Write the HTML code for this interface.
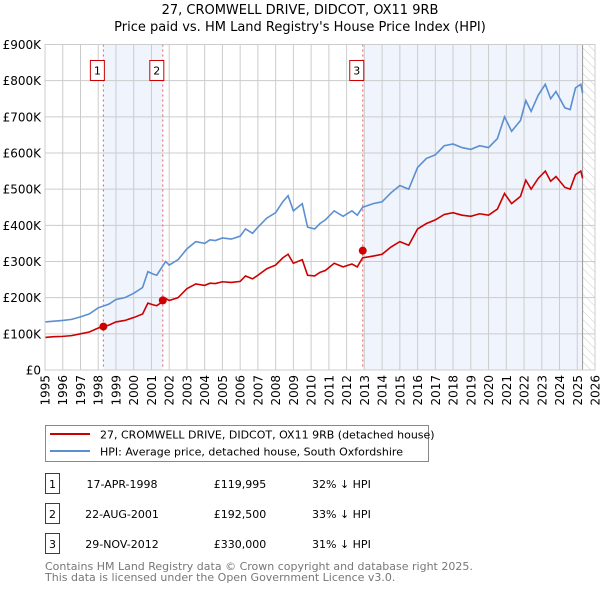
<!DOCTYPE html>
<html><head><meta charset="utf-8"><style>
body{margin:0;background:#fff;font-family:"DejaVu Sans","Liberation Sans",sans-serif;}
svg text{font-family:"DejaVu Sans","Liberation Sans",sans-serif;}
</style></head><body>
<svg id="chart" width="600" height="590" xmlns="http://www.w3.org/2000/svg">
<defs><pattern id="hatch" width="6" height="6" patternUnits="userSpaceOnUse" patternTransform="rotate(-45)"><line x1="0" y1="0" x2="0" y2="6" stroke="#ccc" stroke-width="1"/></pattern></defs>
<text x="300" y="14" text-anchor="middle" font-size="13">27, CROMWELL DRIVE, DIDCOT, OX11 9RB</text>
<text x="300" y="31" text-anchor="middle" font-size="13">Price paid vs. HM Land Registry's House Price Index (HPI)</text>
<g id="bg"></g><g id="grid"></g><g id="lines"></g><g id="axes"></g>
<g>
<rect x="45.5" y="425.5" width="383" height="36" fill="#fff" stroke="#888"/>
<line x1="50" y1="434" x2="90" y2="434" stroke="#cc0000" stroke-width="2"/>
<text x="100" y="438.5" font-size="11">27, CROMWELL DRIVE, DIDCOT, OX11 9RB (detached house)</text>
<line x1="50" y1="451" x2="90" y2="451" stroke="#5b8fd0" stroke-width="2"/>
<text x="100" y="455.5" font-size="11">HPI: Average price, detached house, South Oxfordshire</text>
</g>
<g id="table" font-size="11"></g>
<text x="45" y="570" font-size="11" fill="#777">Contains HM Land Registry data © Crown copyright and database right 2025.</text>
<text x="45" y="581" font-size="11" fill="#777">This data is licensed under the Open Government Licence v3.0.</text>
</svg>
<script>
const hpiYears=[1995,1995.5,1996,1996.5,1997,1997.5,1998,1998.3,1998.6,1999,1999.5,2000,2000.5,2000.8,2001.1,2001.3,2001.6,2001.8,2002,2002.5,2003,2003.5,2004,2004.3,2004.6,2005,2005.5,2006,2006.3,2006.7,2007,2007.5,2008,2008.4,2008.7,2009,2009.5,2009.8,2010.2,2010.5,2010.8,2011.3,2011.8,2012.3,2012.6,2012.9,2013.5,2014,2014.5,2015,2015.5,2016,2016.5,2017,2017.5,2018,2018.5,2019,2019.5,2020,2020.5,2020.9,2021.3,2021.8,2022.1,2022.4,2022.8,2023.2,2023.5,2023.8,2024.3,2024.6,2024.9,2025.2,2025.3];
const hpiValues=[133,135,137,140,147,155,172,177,182,195,200,212,228,272,265,262,285,300,290,305,335,355,350,360,358,365,362,370,390,378,395,420,435,465,482,440,460,395,390,405,415,440,425,440,428,450,460,465,490,510,500,560,585,595,620,625,615,610,620,615,640,700,660,690,745,715,760,790,750,770,725,720,780,790,765];
const ppYears=hpiYears;
const ppValues=[90,92,93,95,100,105,116,120,124,133,137,145,155,185,180,178,188,198,192,200,225,238,234,240,239,244,242,245,260,252,262,280,290,310,320,295,305,262,260,270,275,295,285,293,285,310,315,320,340,355,345,390,405,415,430,435,428,425,432,428,445,488,460,480,525,500,530,550,522,535,505,500,540,550,530];
const saleYears=[1998.29,2001.64,2012.91];
const saleValues=[119995,192500,330000];
const saleLabels=["1","2","3"];
const saleDates=["17-APR-1998","22-AUG-2001","29-NOV-2012"];
const salePrices=["£119,995","£192,500","£330,000"];
const saleDiffs=["32% ↓ HPI","33% ↓ HPI","31% ↓ HPI"];
const yTicks=[0,100,200,300,400,500,600,700,800,900];
const yTickLabels=["£0","£100K","£200K","£300K","£400K","£500K","£600K","£700K","£800K","£900K"];
const xTicks=[1995,1996,1997,1998,1999,2000,2001,2002,2003,2004,2005,2006,2007,2008,2009,2010,2011,2012,2013,2014,2015,2016,2017,2018,2019,2020,2021,2022,2023,2024,2025,2026];
const dataEnd=2025.3;

const L=45,R=595,T=44.5,B=370;
const X=y=>L+(y-1995)*(R-L)/31;
const Y=v=>B-v*(B-T)/900;
const NS="http://www.w3.org/2000/svg";
function mk(parent,tag,attrs){const e=document.createElementNS(NS,tag);for(const k in attrs)e.setAttribute(k,attrs[k]);document.getElementById(parent).appendChild(e);return e;}

let r=mk('bg','rect',{x:X(saleYears[0]),y:T,width:X(saleYears[1])-X(saleYears[0]),height:B-T,fill:'#f0f4fc'});


r=mk('bg','rect',{x:X(saleYears[2]),y:T,width:X(dataEnd)-X(saleYears[2]),height:B-T,fill:'#f0f4fc'});


r=mk('bg','rect',{x:X(dataEnd),y:T,width:R-X(dataEnd),height:B-T,fill:'url(#hatch)'});



yTicks.forEach((v,i)=>{
 let l=mk('grid','line',{x1:L,x2:R,y1:Y(v),y2:Y(v),stroke:'#cccccc'});
 
 
 let t=mk('axes','text',{x:L-4,y:Y(v)+4.5,'text-anchor':'end','font-size':'12'});
 t.textContent=yTickLabels[i];
 
 
});
xTicks.forEach(y=>{
 let l=mk('grid','line',{x1:X(y),x2:X(y),y1:T,y2:B,stroke:'#cccccc'});
 
 
 let t=mk('axes','text',{x:0,y:0,'text-anchor':'end','font-size':'12',transform:`translate(${X(y)+4.5},${B+5}) rotate(-90)`});
 t.textContent=y;
 
 
});
let ln=mk('grid','line',{x1:X(dataEnd),x2:X(dataEnd),y1:T,y2:B,stroke:'#999'});



saleYears.forEach((y,i)=>{
 let l=mk('lines','line',{x1:X(y),x2:X(y),y1:T,y2:B,stroke:'#e06060','stroke-dasharray':'2,3'});
 
 
 let b=mk('lines','rect',{x:X(y)-13,y:60.5,width:14,height:20,fill:'#fff',stroke:'#cc0000'});
 
 
 let t=mk('lines','text',{x:X(y)-6,y:74.5,'text-anchor':'middle','font-size':'11'});
 t.textContent=saleLabels[i];
 
 
});
let p=mk('lines','polyline',{points:hpiYears.map((y,i)=>X(y)+','+Y(hpiValues[i])).join(' '),fill:'none',stroke:'#5b8fd0','stroke-width':1.6});


p=mk('lines','polyline',{points:ppYears.map((y,i)=>X(y)+','+Y(ppValues[i])).join(' '),fill:'none',stroke:'#cc0000','stroke-width':1.6});


saleYears.forEach((y,i)=>{
 let c=mk('lines','circle',{cx:X(y),cy:Y(saleValues[i]/1000),r:4,fill:'#cc0000'});
 
 
});
let ax=mk('axes','rect',{x:L,y:T,width:R-L,height:B-T,fill:'none',stroke:'#cccccc'});



saleYears.forEach((y,i)=>{
 const ry=474+i*30;
 let b=mk('table','rect',{x:45.5,y:ry-0.5,width:14,height:20,fill:'#fff',stroke:'#cc0000'});
 
 
 const cells=[[52.5,saleLabels[i],'middle'],[122,saleDates[i],'middle'],[240,salePrices[i],'middle'],[312,saleDiffs[i],'start']];
 cells.forEach(c=>{let t=mk('table','text',{x:c[0],y:ry+14,'text-anchor':c[2]});t.textContent=c[1];
 
 });
});
</script>
</body></html>
